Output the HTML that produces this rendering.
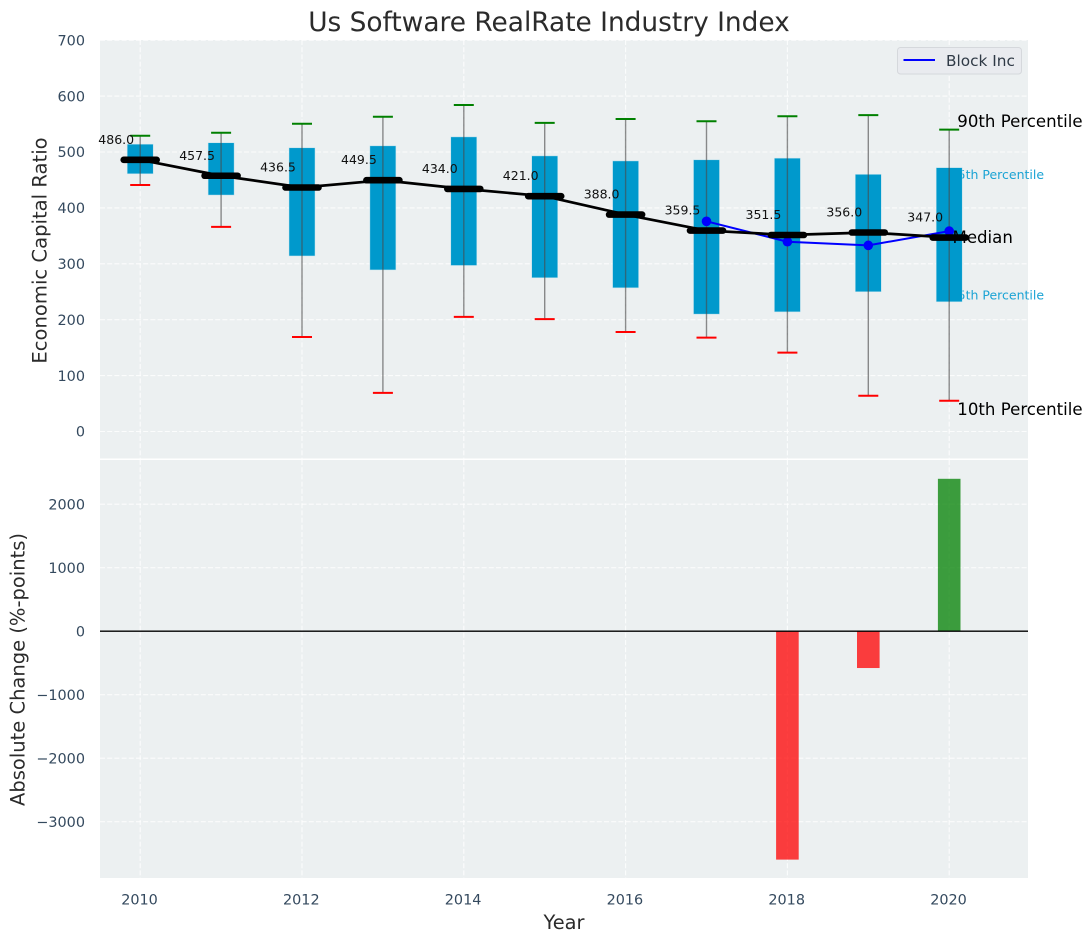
<!DOCTYPE html>
<html lang="en">
<head>
<meta charset="utf-8">
<title>Us Software RealRate Industry Index</title>
<style>
html,body{margin:0;padding:0;background:#fff;width:1092px;height:942px;overflow:hidden}
svg{display:block;font-family:"DejaVu Sans","Liberation Sans",sans-serif}
</style>
</head>
<body>
<svg id="chart" xmlns="http://www.w3.org/2000/svg" width="1092" height="942" viewBox="0 0 1092 942">
  <rect x="0" y="0" width="1092" height="942" fill="#ffffff"/>
  <text x="549" y="31" font-size="26.4" text-anchor="middle" fill="#2b2b2b">Us Software RealRate Industry Index</text>
  <rect x="100" y="40" width="928" height="418.5" fill="#ecf0f1"/>
  <rect x="100" y="460" width="928" height="418" fill="#ecf0f1"/>
  <g id="grid"></g>
  <g id="ticks"></g>
  <text transform="translate(46.5,250.5) rotate(-90)" font-size="19.6" text-anchor="middle" fill="#2b2b2b">Economic Capital Ratio</text>
  <text transform="translate(24.5,669.5) rotate(-90)" font-size="19.5" text-anchor="middle" fill="#2b2b2b">Absolute Change (%-points)</text>
  <text x="564" y="929" font-size="19.4" text-anchor="middle" fill="#2b2b2b">Year</text>
  <g id="annotations">
    <text x="949.7" y="179" font-size="12.5" fill="#1ba3d4">75th Percentile</text>
    <text x="949.7" y="299.5" font-size="12.5" fill="#1ba3d4">25th Percentile</text>
  </g>
  <g id="marks"></g>
  <g>
    <text x="957.3" y="127" font-size="16.6" fill="#000000">90th Percentile</text>
    <text x="957.3" y="415" font-size="16.6" fill="#000000">10th Percentile</text>
  </g>
  <g id="overlay">
    <text x="952.5" y="243" font-size="16.6" fill="#000000">Median</text>
  </g>
  <g id="bars"></g>
  <line x1="100" x2="1028" y1="631.2" y2="631.2" stroke="#000000" stroke-width="1.4"/>
  <g>
    <rect x="897.5" y="47.5" width="124" height="26.5" rx="3" fill="#e9ebef" stroke="#d5d8dc" stroke-width="1"/>
    <line x1="903.5" x2="935" y1="60" y2="60" stroke="#0000ff" stroke-width="2"/>
    <text x="946" y="66" font-size="15.3" fill="#2f3a46">Block Inc</text>
  </g>
</svg>
<script>
const years = [2010, 2011, 2012, 2013, 2014, 2015, 2016, 2017, 2018, 2019, 2020];
const p90 = [529, 534.5, 550.5, 563, 584, 552, 559, 555, 564, 566, 540];
const p75 = [514, 516.5, 507.5, 511, 527, 493, 484, 486, 489, 460, 472];
const median = [486.0, 457.5, 436.5, 449.5, 434.0, 421.0, 388.0, 359.5, 351.5, 356.0, 347.0];
const p25 = [461, 423, 314, 289, 297, 275, 257, 210, 214, 250, 232];
const p10 = [441, 366, 169, 69, 205, 201, 178, 168, 141, 64, 55];
const companyYears = [2017, 2018, 2019, 2020];
const companyValues = [376, 339.5, 333, 358.5];
const changeYears = [2018, 2019, 2020];
const changeValues = [-3597, -580, 2400];
const xTicks = [2010, 2012, 2014, 2016, 2018, 2020];
const topTicks = [0, 100, 200, 300, 400, 500, 600, 700];
const bottomTicks = [-3000, -2000, -1000, 0, 1000, 2000];

const NS = 'http://www.w3.org/2000/svg';
const xScale = function (year) { return 140.2 + (year - 2010) * 80.9; };
const yTop = function (v) { return 431.5 - v * 0.559; };
const yBottom = function (v) { return 631.2 - v * 0.0635; };

function mk(parent, tag, attrs, text) {
  const el = document.createElementNS(NS, tag);
  Object.keys(attrs).forEach(function (k) { el.setAttribute(k, attrs[k]); });
  if (text !== undefined) el.textContent = text;
  parent.appendChild(el);
  return el;
}

const gGrid = document.getElementById('grid');
const gTicks = document.getElementById('ticks');
const gMarks = document.getElementById('marks');
const gOverlay = document.getElementById('overlay');
const gBars = document.getElementById('bars');
const gridStyle = { stroke: '#ffffff', 'stroke-width': 1.1, 'stroke-dasharray': '5 2.2', opacity: 0.8 };

xTicks.forEach(function (t) {
  const x = xScale(t);
  const a = mk(gGrid, 'line', Object.assign({ x1: x, x2: x, y1: 40, y2: 458.5 }, gridStyle));
  
  
  const b = mk(gGrid, 'line', Object.assign({ x1: x, x2: x, y1: 460, y2: 878 }, gridStyle));
  
  
  const label = mk(gTicks, 'text', { x: x - 0.7, y: 904.5, 'font-size': 14.4, 'text-anchor': 'middle', fill: '#34495e' }, String(t));
  
  
});

topTicks.forEach(function (t) {
  const y = yTop(t);
  const line = mk(gGrid, 'line', Object.assign({ x1: 100, x2: 1028, y1: y, y2: y }, gridStyle));
  
  
  const label = mk(gTicks, 'text', { x: 85, y: y + 5.2, 'font-size': 14.4, 'text-anchor': 'end', fill: '#34495e' }, String(t));
  
  
});

bottomTicks.forEach(function (t) {
  const y = yBottom(t);
  const line = mk(gGrid, 'line', Object.assign({ x1: 100, x2: 1028, y1: y, y2: y }, gridStyle));
  
  
  const label = mk(gTicks, 'text', { x: 85, y: y + 5.2, 'font-size': 14.4, 'text-anchor': 'end', fill: '#34495e' }, String(t).replace('-', '\u2212'));
  
  
});

years.forEach(function (year, i) {
  const x = xScale(year);
  const box = mk(gMarks, 'rect', { x: x - 13, y: yTop(p75[i]), width: 26, height: yTop(p25[i]) - yTop(p75[i]), fill: '#0099cc', stroke: '#c3e3ee', 'stroke-width': 0.5 });
  
  
  const whisker = mk(gMarks, 'line', { x1: x, x2: x, y1: yTop(p90[i]), y2: yTop(p10[i]), stroke: '#4a4a4a', 'stroke-width': 1.4, opacity: 0.62 });
  
  
  const capHigh = mk(gMarks, 'line', { x1: x - 10, x2: x + 10, y1: yTop(p90[i]), y2: yTop(p90[i]), stroke: '#008000', 'stroke-width': 2 });
  
  
  const capLow = mk(gMarks, 'line', { x1: x - 10, x2: x + 10, y1: yTop(p10[i]), y2: yTop(p10[i]), stroke: '#ff0000', 'stroke-width': 2 });
  
  
});

const companyLine = mk(gOverlay, 'polyline', {
  points: companyYears.map(function (y, i) { return xScale(y) + ',' + yTop(companyValues[i]); }).join(' '),
  fill: 'none', stroke: '#0000ff', 'stroke-width': 2
});


companyYears.forEach(function (y, i) {
  const dot = mk(gOverlay, 'circle', { cx: xScale(y), cy: yTop(companyValues[i]), r: 4.8, fill: '#0000ff' });
  
  
});

const medianLine = mk(gOverlay, 'polyline', {
  points: years.map(function (y, i) { return xScale(y) + ',' + yTop(median[i]); }).join(' '),
  fill: 'none', stroke: '#000000', 'stroke-width': 2.7
});



years.forEach(function (year, i) {
  const x = xScale(year);
  const y = yTop(median[i]);
  const seg = mk(gOverlay, 'line', { x1: x - 16.5, x2: x + 16.5, y1: y, y2: y, stroke: '#000000', 'stroke-width': 6.6, 'stroke-linecap': 'round' });
  
  
  const label = mk(gOverlay, 'text', { x: x - 24, y: y - 16, 'font-size': 12.5, 'text-anchor': 'middle', fill: '#111111' }, median[i].toFixed(1));
  
  
});

changeYears.forEach(function (year, i) {
  const x = xScale(year);
  const v = changeValues[i];
  const y0 = yBottom(0);
  const y1 = yBottom(v);
  const bar = mk(gBars, 'rect', {
    x: x - 11.3, y: Math.min(y0, y1), width: 22.6, height: Math.abs(y1 - y0),
    fill: v < 0 ? '#ff0000' : '#008000', 'fill-opacity': 0.75
  });
  
  
});
</script>
</body>
</html>
